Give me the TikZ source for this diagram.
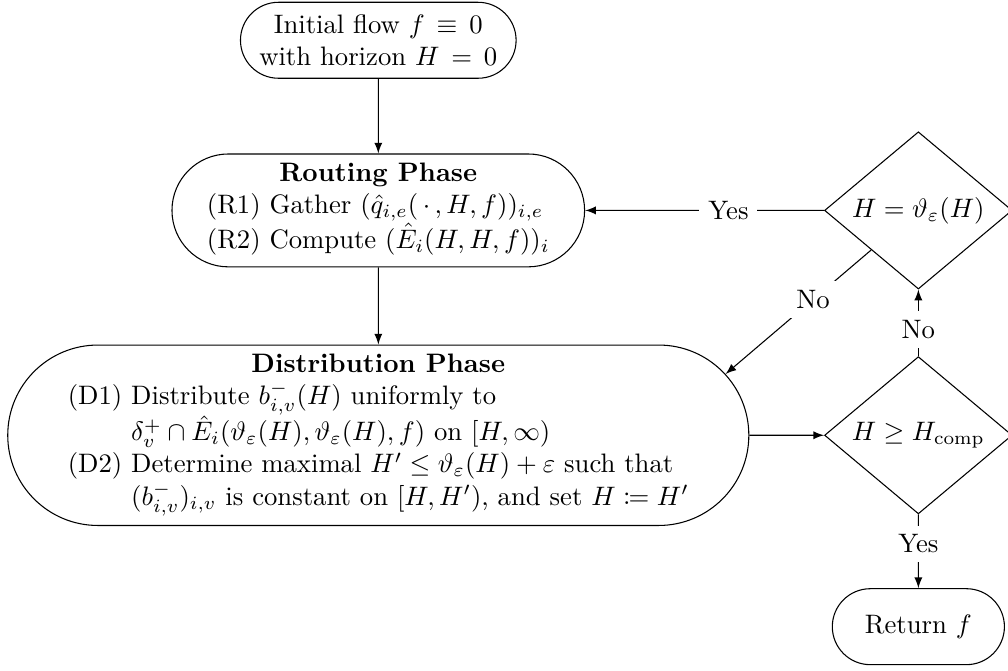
\documentclass[tikz,border=0pt]{standalone}
\usepackage{amsmath}
\usepackage{amssymb}
\usepackage{mathtools}
\usepackage{tikz}
\usetikzlibrary{shapes.geometric, shapes.misc}

\tikzset{
	phase/.style = {draw, rounded rectangle, align=center, minimum height=1cm},
	decision/.style = {draw, diamond, aspect=1.2, inner sep=0pt, minimum width=2.47cm, minimum height=2.07cm},
	answer/.style = {fill=white, pos=0.4},
}

\begin{document}
\begin{tikzpicture}[>=latex]
	\useasboundingbox (0, 0) rectangle (13.27, -8.83);

	% left column
	\node[phase] (init) at (4.98, -0.53) {Initial flow $f \,\equiv\, 0$\\with horizon $H \,=\, 0$};
	\node[phase] (routing) at (4.98, -2.77) {\textbf{Routing Phase}\\
		\begin{tabular}[t]{@{}l@{}}
			(R1) Gather $(\hat{q}_{i,e}(\,\cdot\,, H, f))_{i,e}$\\
			(R2) Compute $(\hat{E}_i(H, H, f))_i$
		\end{tabular}};
	\node[phase] (dist) at (4.98, -5.73) {\textbf{Distribution Phase}\\
		\begin{tabular}[t]{@{}l@{ }l@{}}
			(D1) & Distribute $b^-_{i,v}(H)$ uniformly to\\
			     & $\delta^+_v \cap \hat{E}_i(\vartheta_\varepsilon(H), \vartheta_\varepsilon(H), f)$ on $[H, \infty)$\\
			(D2) & Determine maximal $H' \leq \vartheta_\varepsilon(H) + \varepsilon$ such that\\
			     & $(b^-_{i,v})_{i,v}$ is constant on $[H, H')$, and set $H \coloneqq H'$
		\end{tabular}};

	% right column
	\node[decision] (fixpoint) at (12.09, -2.77) {$H = \vartheta_\varepsilon(H)$};
	\node[decision] (stop) at (12.09, -5.73) {$H \geq H_{\mathrm{comp}}$};
	\node[phase, minimum width=2.5cm] (result) at (12.09, -8.25) {Return $f$};

	% edges
	\draw[->] (init) -- (routing);
	\draw[->] (routing) -- (dist);
	\draw[->] (dist) -- (stop);
	\draw[->] (stop) -- node[answer] {Yes} (result);
	\draw[->] (stop) -- node[answer] {No} (fixpoint);
	\draw[->] (fixpoint) -- node[answer] {Yes} (routing);
	\draw[->] (fixpoint.south west) -- node[answer] {No} (dist.10);
\end{tikzpicture}
\end{document}
